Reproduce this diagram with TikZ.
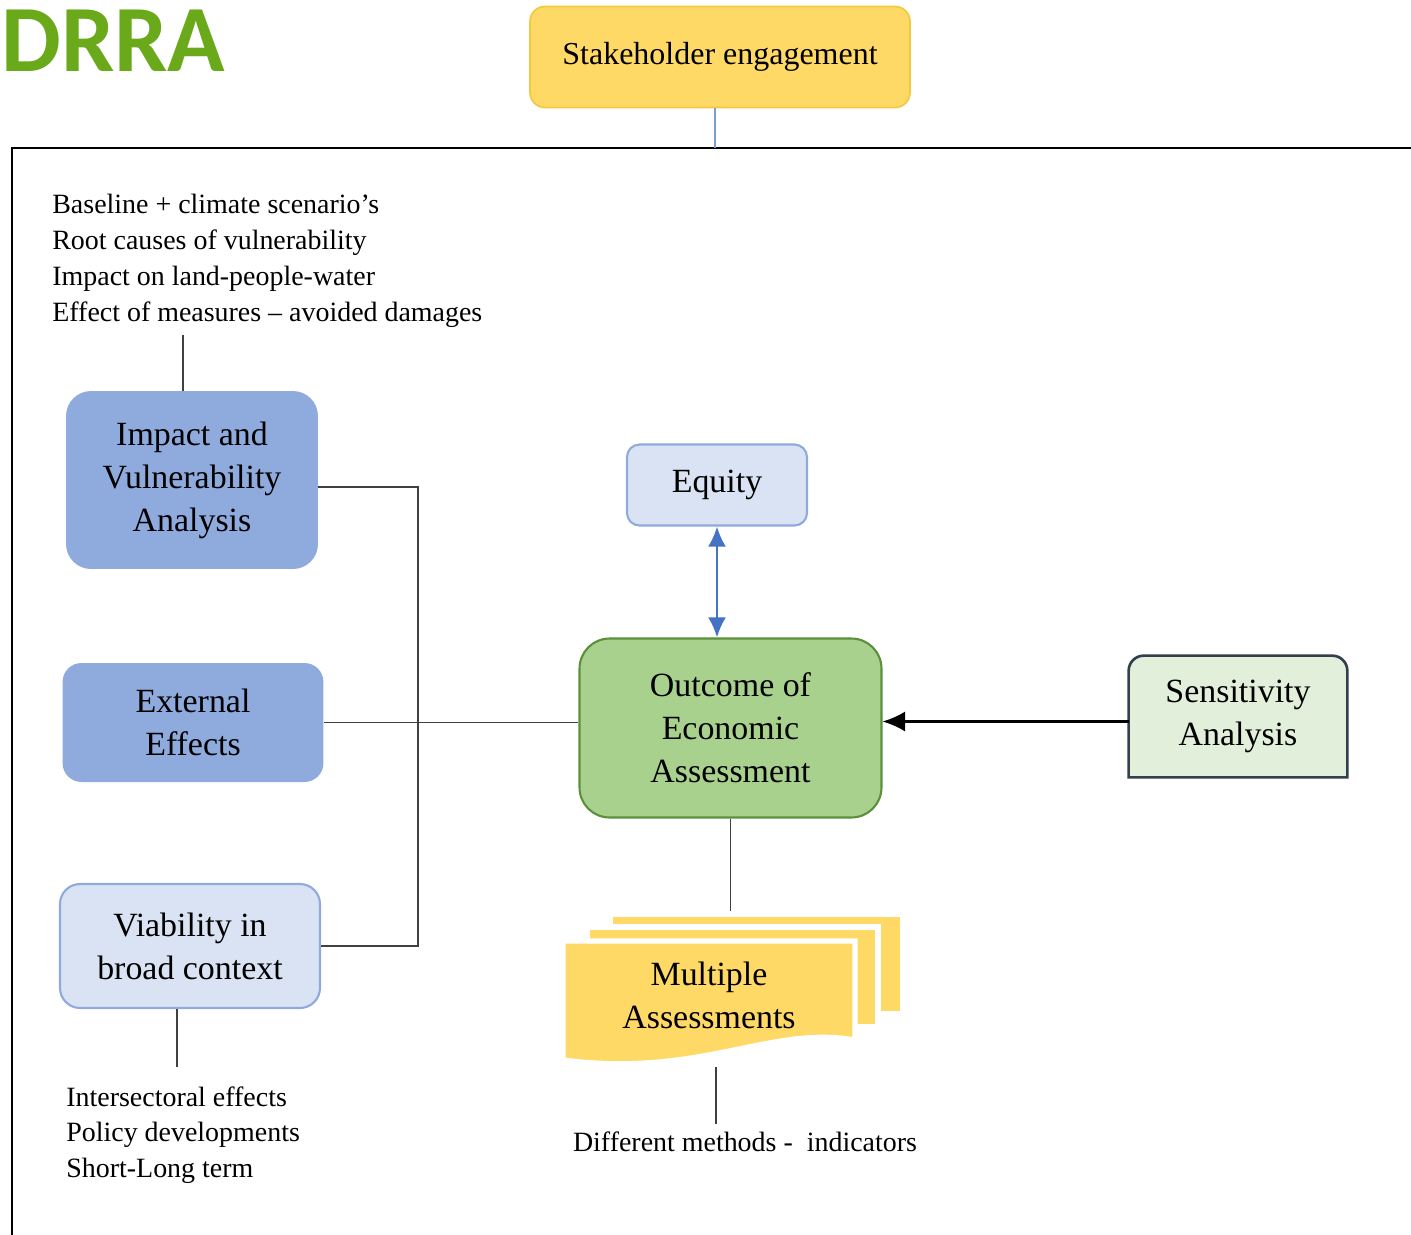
\documentclass[tikz,border=0pt]{standalone}
\usepackage{fontspec}
\setmainfont{Liberation Serif}
\newfontfamily\logofont{Carlito}
\usepackage{tikz}
\usetikzlibrary{positioning,backgrounds,arrows.meta}

\definecolor{blockblue}{HTML}{8FAADC}
\definecolor{paleblue}{HTML}{DAE3F3}
\definecolor{gold}{HTML}{FFD966}
\definecolor{goldline}{HTML}{F4C842}
\definecolor{leaf}{HTML}{A9D18E}
\definecolor{leafline}{HTML}{5B8F3A}
\definecolor{mint}{HTML}{E2EFDA}
\definecolor{slate}{HTML}{333F4F}
\definecolor{linkblue}{HTML}{4472C4}
\definecolor{logogreen}{HTML}{6AAA1A}

\newcommand{\bigtxt}{\fontsize{19.3pt}{24.5pt}\selectfont}
\newcommand{\midtxt}{\fontsize{18.2pt}{22pt}\selectfont}
\newcommand{\smalltxt}{\fontsize{15.9pt}{20.4pt}\selectfont}

\tikzset{
    block/.style={rounded corners=0.45cm, align=center, inner sep=0pt, font=\bigtxt},
    darkblock/.style={block, fill=blockblue},
    lightblock/.style={block, fill=paleblue, draw=blockblue, line width=1.2pt},
    note/.style={align=left, inner sep=0pt, font=\smalltxt},
    page/.style={fill=gold, draw=white, line width=3pt, inner sep=0pt},
    tie/.style={draw=black!75, line width=1pt},
}

\begin{document}
\begin{tikzpicture}[x=0.02cm, y=-0.02cm]
    \useasboundingbox (0,0) rectangle (1411,1235);

    \node[anchor=base west, inner sep=0pt, text=logogreen,
        font=\logofont\bfseries\fontsize{54pt}{60pt}\selectfont] (logo) at (1,71) {DRRA};

    \node[block, rounded corners=0.3cm, fill=gold, draw=goldline, line width=1pt, font=\midtxt,
        minimum width=7.6cm, minimum height=2.02cm] (stake) at (720,57) {Stakeholder engagement};

    % frame
    \draw[line width=1.6pt] (12,1235) -- (12,148) -- (1411,148);
    \coordinate (frametop) at (715,148);
    \draw[linkblue!70, line width=1pt] ([xshift=-0.1cm]stake.south) -- ([xshift=-0.1cm]stake.south |- frametop);

    % left column
    \node[note, anchor=north west] (basetxt) at (52,194)
        {Baseline + climate scenario’s\\Root causes of vulnerability\\Impact on land-people-water\\Effect of measures -- avoided damages};
    \node[darkblock, rounded corners=0.5cm, minimum width=5.04cm, minimum height=3.56cm]
        (impact) at (192,480) {Impact and\\Vulnerability\\Analysis};
    \node[darkblock, rounded corners=0.38cm, minimum width=5.22cm, minimum height=2.38cm]
        (external) at (193,722.5) {External\\Effects};
    \node[lightblock, rounded corners=0.4cm, minimum width=5.2cm, minimum height=2.48cm]
        (viab) at (190,946) {Viability in\\broad context};
    \node[note, anchor=north west] (sidetxt) at (66,1086)
        {Intersectoral effects\\Policy developments\\Short-Long term};

    % centre column
    \node[lightblock, rounded corners=0.25cm, minimum width=3.6cm, minimum height=1.62cm]
        (equity) at (717,485) {Equity};
    \node[block, rounded corners=0.6cm, fill=leaf, draw=leafline, line width=1.2pt,
        minimum width=6.04cm, minimum height=3.58cm] (outcome) at (730.5,728) {Outcome of\\Economic\\Assessment};
    \node[block, minimum width=4.36cm, minimum height=2.42cm] (sens) at (1238,716.5) {Sensitivity\\Analysis};
    \begin{pgfonlayer}{background}
        \path[fill=mint, draw=slate, line width=1.5pt] (sens.south west)
            -- ([yshift=-0.3cm]sens.north west) arc[start angle=180, end angle=90, radius=0.3cm]
            -- ([xshift=-0.3cm]sens.north east) arc[start angle=90, end angle=0, radius=0.3cm]
            -- (sens.south east) -- cycle;
    \end{pgfonlayer}

    % stacked documents
    \node[page, minimum width=5.86cm, minimum height=2cm] (pg3) at (756.5,964) {};
    \node[page, minimum width=5.82cm, minimum height=2cm] (pg2) at (732.5,977) {};
    \path[page] (563,941) -- (855,941) -- (855,1040)
        .. controls (770,1025) and (700,1078) .. (563,1060) -- cycle;
    \node[block, fill=none] (multi) at (709,995) {Multiple\\Assessments};
    \coordinate (docbase) at (716,1067);
    \node[note] (methods) at (745,1142) {Different methods -~~indicators};

    % connectors
    \draw[tie, shorten >=0.14cm] ([xshift=-0.18cm]impact.north) -- ([xshift=-0.18cm]impact.north |- basetxt.south);
    \draw[tie, shorten >=0.38cm] ([xshift=-0.26cm]viab.south) -- ([xshift=-0.26cm]viab.south |- sidetxt.north);
    \draw[tie, shorten >=0.16cm] (docbase) -- (docbase |- methods.north);
    \draw[tie] (outcome.south) -- (outcome.south |- pg3.north);
    \coordinate (bus) at (418,0);
    \draw[tie] ([yshift=-0.14cm]impact.east) -| (bus |- viab.east) -- (viab.east);
    \draw[tie] (external.east) -- (external.east -| outcome.west);
    \draw[-{Latex[length=0.45cm, width=0.4cm]}, line width=1.2pt]
        ([yshift=-0.1cm]sens.west) -- ([yshift=-0.1cm]sens.west -| outcome.east);
    \draw[{Latex[length=0.4cm, width=0.36cm]}-{Latex[length=0.4cm, width=0.36cm]}, color=linkblue, line width=1.5pt]
        (equity.south) -- (equity.south |- outcome.north);
\end{tikzpicture}
\end{document}
